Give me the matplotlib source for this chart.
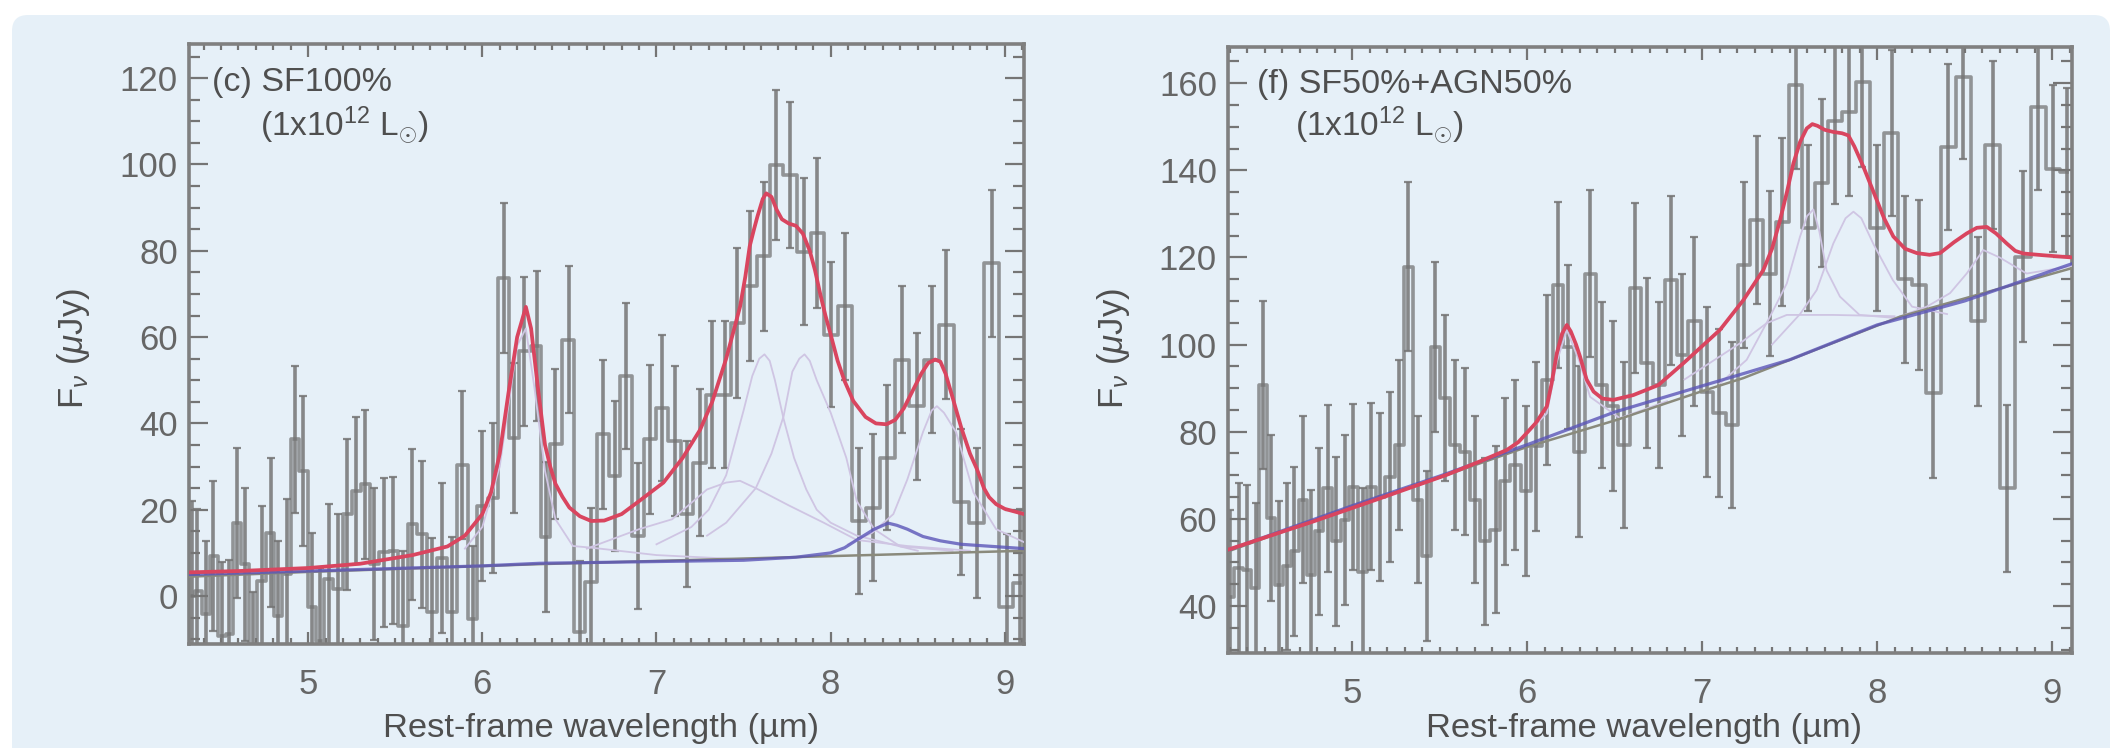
#Rest-frame mid-infrared spectra with PAH fits, two panels
import matplotlib
matplotlib.use("Agg")
import matplotlib.pyplot as plt
from matplotlib.patches import FancyBboxPatch
from matplotlib.ticker import MultipleLocator

plt.rcParams['font.family'] = ['Liberation Sans', 'DejaVu Sans']
plt.rcParams['mathtext.fontset'] = 'custom'
plt.rcParams['mathtext.rm'] = 'Liberation Sans'
plt.rcParams['mathtext.it'] = 'Liberation Sans:italic'

#panel (c): spectrum
wave_c = [4.333, 4.363, 4.414, 4.456, 4.507, 4.548, 4.589, 4.640, 4.682, 4.733, 4.784, 4.825, 4.876, 4.924,
          4.973, 5.020, 5.067, 5.117, 5.174, 5.225, 5.277, 5.328, 5.379, 5.437, 5.488, 5.544, 5.599, 5.656,
          5.712, 5.770, 5.827, 5.886, 5.944, 6.000, 6.061, 6.122, 6.180, 6.241, 6.313, 6.364, 6.416, 6.497,
          6.558, 6.625, 6.692, 6.759, 6.826, 6.893, 6.960, 7.033, 7.104, 7.177, 7.247, 7.320, 7.391, 7.464,
          7.539, 7.615, 7.688, 7.769, 7.845, 7.924, 8.004, 8.085, 8.163, 8.244, 8.326, 8.412, 8.493, 8.579,
          8.665, 8.751, 8.838, 8.924, 9.010, 9.087]
flux_c = [0, 1.2, -4.2, 9.3, -9.2, -8.8, 17, 7.4, -16, 3.5, 14.7, -4.5, 5.1, 36.3,
          29, -2.6, -10.5, 3.9, 1.6, 19, 24.4, 25.9, 7.4, 10.1, 10.5, -6.9, 16.6, 14.3,
          -3.8, 8.9, -3.8, 30.3, -5.3, 20.9, 22.8, 73.7, 36.7, 56.7, 57.9, 13.6, 35.3, 59.4,
          -8.4, 3.2, 37.5, 27.8, 51, 14, 36.3, 43.6, 35.9, 19, 30.9, 46.7, 46.7, 63.3,
          71.8, 78.7, 99.9, 97.6, 79.8, 84.1, 60.6, 67.1, 17.4, 20.5, 32.1, 54.8, 44, 54.8,
          62.9, 21.7, 17, 77.1, -2.6, 3]
err_c = [22, 19, 17, 17.4, 17, 17.2, 17.4, 17.7, 17, 17.4, 17.3, 17.3, 17.3, 17,
         17.3, 17.3, 17, 17.4, 17.4, 17.5, 17, 17.3, 17.6, 17.3, 17, 17.3, 17.4, 17,
         17.3, 17.4, 17.4, 17.1, 17, 17.3, 17.4, 17.4, 17.4, 17.3, 17.3, 17.4, 17.4, 17,
         16.6, 17.3, 17.3, 17.4, 17, 16.9, 17.3, 17, 17.4, 16.9, 17, 17, 17, 17.3,
         17.3, 17.3, 17.3, 16.9, 17, 17.3, 16.9, 17.1, 17, 17, 16.9, 17, 17, 17,
         17.3, 16.9, 17.4, 17, 16.9, 17.1]

#panel (c): fit curves
fit_wave_c = [4.32, 4.6, 5.0, 5.3, 5.6, 5.8, 5.9, 5.96, 6.0, 6.05, 6.1, 6.15, 6.2, 6.25, 6.28, 6.32, 6.36, 6.39, 6.42,
              6.46, 6.5, 6.56, 6.625, 6.7, 6.8, 6.9, 7.04, 7.15, 7.25, 7.32, 7.4, 7.44, 7.48, 7.51, 7.535, 7.56, 7.58,
              7.61, 7.63, 7.66, 7.69, 7.72, 7.76, 7.8, 7.84, 7.88, 7.91, 7.94, 7.97, 8.0, 8.04, 8.08, 8.13, 8.2, 8.26,
              8.32, 8.37, 8.42, 8.47, 8.52, 8.56, 8.6, 8.63, 8.66, 8.7, 8.75, 8.8, 8.84, 8.88, 8.91, 8.95, 9.0, 9.11]
fit_flux_c = [5.5, 5.8, 6.5, 7.5, 9.5, 11.5, 14, 17, 19, 24, 33, 47, 60, 67, 62, 48, 35, 30, 26,
              23, 20.5, 18.5, 17.4, 17.5, 19, 22, 26.3, 32, 38.5, 45, 55, 61, 67.1, 74, 81, 85, 88,
              92, 93.3, 92.5, 89.5, 87.3, 86.3, 85.8, 84, 80, 75.5, 70, 65, 60.6, 54.5, 49.8, 45.2, 41.5, 40,
              39.8, 40.8, 43.5, 47.5, 51.5, 54, 54.8, 54.3, 51.5, 46, 39, 33, 29.4, 25, 22.9, 21.3, 20.2, 19]
cont_wave_c = [4.32, 5.0, 6.33, 7.5, 9.11]
cont_flux_c = [4.5, 5.6, 7.4, 8.7, 10.5]
blue_wave_c = [4.32, 5.0, 6.0, 6.33, 7.0, 7.5, 7.8, 8.0, 8.08, 8.15, 8.25, 8.33, 8.38, 8.44, 8.53, 8.63, 8.75, 9.11]
blue_flux_c = [5, 5.8, 7, 7.6, 8, 8.3, 9, 10, 11.2, 13, 15.5, 16.9, 16.4, 15.5, 13.8, 12.8, 12, 11]
#PAH features of panel (c)
pah_wave_c = [[5.9, 6.0, 6.1, 6.16, 6.2, 6.25, 6.3, 6.36, 6.42, 6.52, 6.63, 7.0, 7.5],
              [7.0, 7.2, 7.3, 7.4, 7.5, 7.55, 7.59, 7.62, 7.65, 7.68, 7.73, 7.79, 7.86, 7.92, 8.0, 8.15, 8.5],
              [7.29, 7.4, 7.57, 7.66, 7.73, 7.78, 7.82, 7.85, 7.88, 7.92, 8.0, 8.09, 8.15, 8.25, 8.4, 8.7],
              [6.6, 6.9, 7.09, 7.29, 7.4, 7.48, 7.57, 7.76, 7.96, 8.15, 8.44, 8.8],
              [8.1, 8.24, 8.36, 8.44, 8.53, 8.58, 8.61, 8.65, 8.72, 8.82, 8.95, 9.11]]
pah_flux_c = [[11, 16, 30, 47, 58, 62, 48, 29, 17.8, 11.6, 11.2, 9.5, 8.5],
              [12, 16, 20, 28, 43, 51, 55, 56, 54.5, 50, 41, 32, 24.7, 20, 17, 14, 10.5],
              [14, 17, 25, 33, 41.7, 52, 55, 56, 54.5, 50, 42.5, 32, 22, 15.5, 11.5, 10.5],
              [11, 15.5, 17.8, 24.7, 26.3, 26.7, 25, 21, 17, 13, 11.6, 10.5],
              [12, 14.7, 19, 27, 38, 43, 44, 42.5, 38, 24, 15.5, 12.5]]

#panel (f): spectrum
wave_f = [4.300, 4.356, 4.398, 4.450, 4.490, 4.536, 4.583, 4.627, 4.671, 4.718, 4.764, 4.812, 4.861, 4.909,
          4.960, 5.008, 5.061, 5.109, 5.160, 5.214, 5.271, 5.322, 5.374, 5.427, 5.475, 5.532, 5.589, 5.646,
          5.703, 5.760, 5.821, 5.875, 5.932, 5.993, 6.052, 6.116, 6.176, 6.236, 6.297, 6.360, 6.427, 6.489,
          6.554, 6.617, 6.684, 6.754, 6.821, 6.887, 6.956, 7.027, 7.099, 7.173, 7.240, 7.312, 7.388, 7.459,
          7.535, 7.607, 7.684, 7.760, 7.842, 7.916, 7.998, 8.084, 8.160, 8.242, 8.322, 8.404, 8.493, 8.575,
          8.661, 8.745, 8.832, 8.922, 9.008, 9.084]
flux_f = [42, 48.7, 48.3, 44.1, 90.7, 60.2, 44.9, 49.1, 52.5, 64.4, 47.2, 57.1, 67, 54.8,
          59.8, 67.3, 47.9, 67.4, 65.1, 69.7, 77, 117.9, 64.4, 51.4, 99.5, 87.7, 77, 75.4,
          64.4, 54.8, 57.5, 68.6, 72.4, 66.3, 76.6, 91.9, 113.7, 99.5, 75.4, 116.3, 90.7, 85.8,
          77, 112.9, 95.7, 90.7, 114.8, 97.6, 105.3, 89.2, 84.2, 81.6, 118.3, 128.6, 116.3, 128.2,
          159.5, 126.7, 137, 151.4, 153.4, 160.3, 126.7, 148.5, 115, 113.7, 88.8, 145.4, 161.5, 105.3,
          145.8, 67, 120.2, 154.6, 140.4, 139.7]
err_f = [20, 19.5, 19.4, 19.5, 19.2, 19.1, 19.1, 19.1, 19.5, 19.1, 19.5, 19.1, 19.2, 19.4,
         19.5, 19.1, 19.1, 19.1, 19.3, 19.5, 19.5, 19.3, 19.1, 19.5, 19.5, 19.1, 19.5, 19.2,
         19.1, 19.1, 19.1, 19.1, 19.5, 19.5, 19.5, 19.5, 19.1, 18.8, 19.6, 19.2, 19.1, 19.5,
         19.1, 19.5, 19.5, 19.1, 19.4, 18.7, 19.3, 19.5, 19.3, 19.1, 19.1, 19.2, 19, 19.3,
         19.1, 19.1, 19.3, 19.2, 19.4, 19.5, 19.1, 19.1, 19.2, 19.5, 19.5, 19.1, 18.9, 19.3,
         19.3, 19.2, 19.7, 19.1, 19.1, 19.3]

#panel (f): fit curves
fit_wave_f = [4.29, 4.779, 5.16, 5.541, 5.732, 5.884, 5.95, 5.998, 6.05, 6.113, 6.14, 6.17, 6.2, 6.227, 6.25, 6.28, 6.303,
              6.34, 6.38, 6.43, 6.493, 6.607, 6.75, 6.893, 7.103, 7.236, 7.35, 7.4, 7.446, 7.485, 7.522, 7.56, 7.598,
              7.63, 7.66, 7.7, 7.75, 7.8, 7.836, 7.87, 7.9, 7.922, 7.96, 7.998, 8.04, 8.093, 8.16, 8.227, 8.3, 8.36,
              8.44, 8.512, 8.57, 8.627, 8.68, 8.741, 8.79, 8.836, 8.95, 9.11]
fit_flux_f = [52.9, 59.4, 64.7, 70.1, 73.2, 75.8, 77.6, 79.7, 82, 85.8, 91, 98, 102.5, 104.5, 103, 100, 97.2,
              92, 89.2, 87.6, 87.3, 88.4, 90.7, 95.7, 103.4, 110.2, 117.1, 122, 128.6, 135, 141.6, 146.5, 149.6,
              150.6, 150.2, 149.3, 148.8, 148.5, 148, 145.5, 142.8, 140.8, 137, 133.2, 129, 124.8, 122, 121, 120.6, 121,
              123.5, 125.5, 126.8, 127, 125.5, 123.2, 121.5, 120.9, 120.5, 120]
cont_wave_f = [4.29, 5.0, 5.5, 6.0, 6.512, 7.0, 7.236, 8.131, 9.11]
cont_flux_f = [52.5, 62.8, 69.5, 76.5, 82.7, 89.3, 92.3, 106.4, 117.5]
blue_wave_f = [4.29, 5.0, 5.5, 6.0, 6.5, 7.0, 7.5, 8.0, 8.5, 9.11]
blue_flux_f = [52.8, 63, 69.8, 77, 84.5, 90.5, 96.5, 104.5, 110, 118.5]
#PAH features of panel (f)
pah_wave_f = [[5.9, 6.113, 6.17, 6.227, 6.3, 6.36, 6.53, 6.8],
              [7.1, 7.255, 7.388, 7.484, 7.56, 7.6, 7.636, 7.67, 7.712, 7.788, 7.9, 8.13],
              [7.4, 7.56, 7.655, 7.75, 7.82, 7.865, 7.91, 7.98, 8.09, 8.2, 8.4],
              [6.9, 7.217, 7.369, 7.484, 7.75, 8.1],
              [8.1, 8.284, 8.417, 8.512, 8.607, 8.7, 8.855, 9.11]]
pah_flux_f = [[75.5, 84.2, 96, 103.4, 96, 88, 83.1, 87],
              [91, 96.5, 106.4, 114, 124.8, 129.5, 131, 126, 117, 111, 106.8, 106],
              [100, 107, 112.5, 123.2, 129, 130.5, 129, 123, 114.8, 108.7, 107],
              [92, 100.3, 104.9, 106.8, 106.8, 106.5],
              [106, 108.7, 111.8, 116.3, 121.7, 120, 116.3, 118]]

#tick labels, axis limits and panel text
xticks = [5, 6, 7, 8, 9]
yticks_c = [0, 20, 40, 60, 80, 100, 120]
yticks_f = [40, 60, 80, 100, 120, 140, 160]
xlim_c = (4.316, 9.11)
ylim_c = (-11.1, 127.9)
xlim_f = (4.291, 9.114)
ylim_f = (29.2, 168.3)

W, H = 2113, 748
GRID = '#757575'
TEXT = '#666666'


def px_axes(fig, left, top, right, bottom):
    return fig.add_axes([left/W, 1 - bottom/H, (right - left)/W, (bottom - top)/H])


def draw_panel(ax, wave, flux, err, fit_w, fit_f, cont_w, cont_f, blue_w, blue_f, pah_w, pah_f, xlim, ylim, yticks):
    ax.patch.set_alpha(0)
    ax.step(wave, flux, where='mid', color=GRID, lw=2.6, alpha=0.75, zorder=2)
    ax.errorbar(wave, flux, yerr=err, fmt='none', ecolor=GRID, elinewidth=2.6, capsize=3, capthick=1.6,
                alpha=0.85, zorder=2)
    for w, f in zip(pah_w, pah_f):
        ax.plot(w, f, color='#cfc5e3', lw=1.3, zorder=3)
    ax.plot(cont_w, cont_f, color='#8a8a7c', lw=1.8, zorder=3)
    ax.plot(blue_w, blue_f, color='#5b55b8', lw=2.3, alpha=0.8, zorder=4)
    ax.plot(fit_w, fit_f, color='#d9455f', lw=2.7, solid_joinstyle='round', zorder=5)
    ax.set_xlim(xlim)
    ax.set_ylim(ylim)
    ax.set_xticks(xticks)
    ax.set_yticks(yticks)
    ax.xaxis.set_minor_locator(MultipleLocator(0.1))
    ax.yaxis.set_minor_locator(MultipleLocator(5))
    ax.tick_params(which='both', direction='in', top=True, right=True, color=GRID, labelcolor=TEXT)
    ax.tick_params(axis='x', which='major', length=9, width=1.6, pad=17, labelsize=25)
    ax.tick_params(axis='x', which='minor', length=4.5, width=1.6)
    ax.tick_params(axis='y', which='major', length=14, width=1.6, pad=8, labelsize=25)
    ax.tick_params(axis='y', which='minor', length=8, width=1.6)
    for s in ax.spines.values():
        s.set_color('#808080')
        s.set_linewidth(2.6)


def put(fig, x, y, s, **kw):
    fig.text(x/W, 1 - y/H, s, color='#4f4f4f', va='center', **kw)


if __name__ == "__main__":
    fig = plt.figure(figsize=(W/100, H/100), dpi=100, facecolor='white')

    #rounded pale blue card behind the panels
    bg = fig.add_axes([0, 0, 1, 1])
    bg.set_xlim(0, W)
    bg.set_ylim(H, 0)
    bg.axis('off')
    bg.add_patch(FancyBboxPatch((12, 15), 2098, 780, boxstyle='round,pad=0,rounding_size=16',
                                facecolor='#e6f0f8', edgecolor='none'))

    ax1 = px_axes(fig, 189, 44, 1024, 644)
    draw_panel(ax1, wave_c, flux_c, err_c, fit_wave_c, fit_flux_c, cont_wave_c, cont_flux_c, blue_wave_c, blue_flux_c,
               pah_wave_c, pah_flux_c, xlim_c, ylim_c, yticks_c)
    ax2 = px_axes(fig, 1228, 47, 2072, 653)
    draw_panel(ax2, wave_f, flux_f, err_f, fit_wave_f, fit_flux_f, cont_wave_f, cont_flux_f, blue_wave_f, blue_flux_f,
               pah_wave_f, pah_flux_f, xlim_f, ylim_f, yticks_f)

    put(fig, 212, 83, '(c) SF100%', fontsize=24.5)
    put(fig, 260, 125, r'(1x10$^{12}$ L$_{\odot}$)', fontsize=24)
    put(fig, 1257, 85, '(f) SF50%+AGN50%', fontsize=24.5)
    put(fig, 1295, 125, r'(1x10$^{12}$ L$_{\odot}$)', fontsize=24)

    put(fig, 73, 348, r'F$_{\nu}$ ($\mu$Jy)', fontsize=25, rotation=90, ha='center')
    put(fig, 1113, 348, r'F$_{\nu}$ ($\mu$Jy)', fontsize=25, rotation=90, ha='center')
    put(fig, 601, 729, 'Rest-frame wavelength (µm)', fontsize=24.8, ha='center')
    put(fig, 1644, 729, 'Rest-frame wavelength (µm)', fontsize=24.8, ha='center')

    fig.savefig('out.png', dpi=100)
